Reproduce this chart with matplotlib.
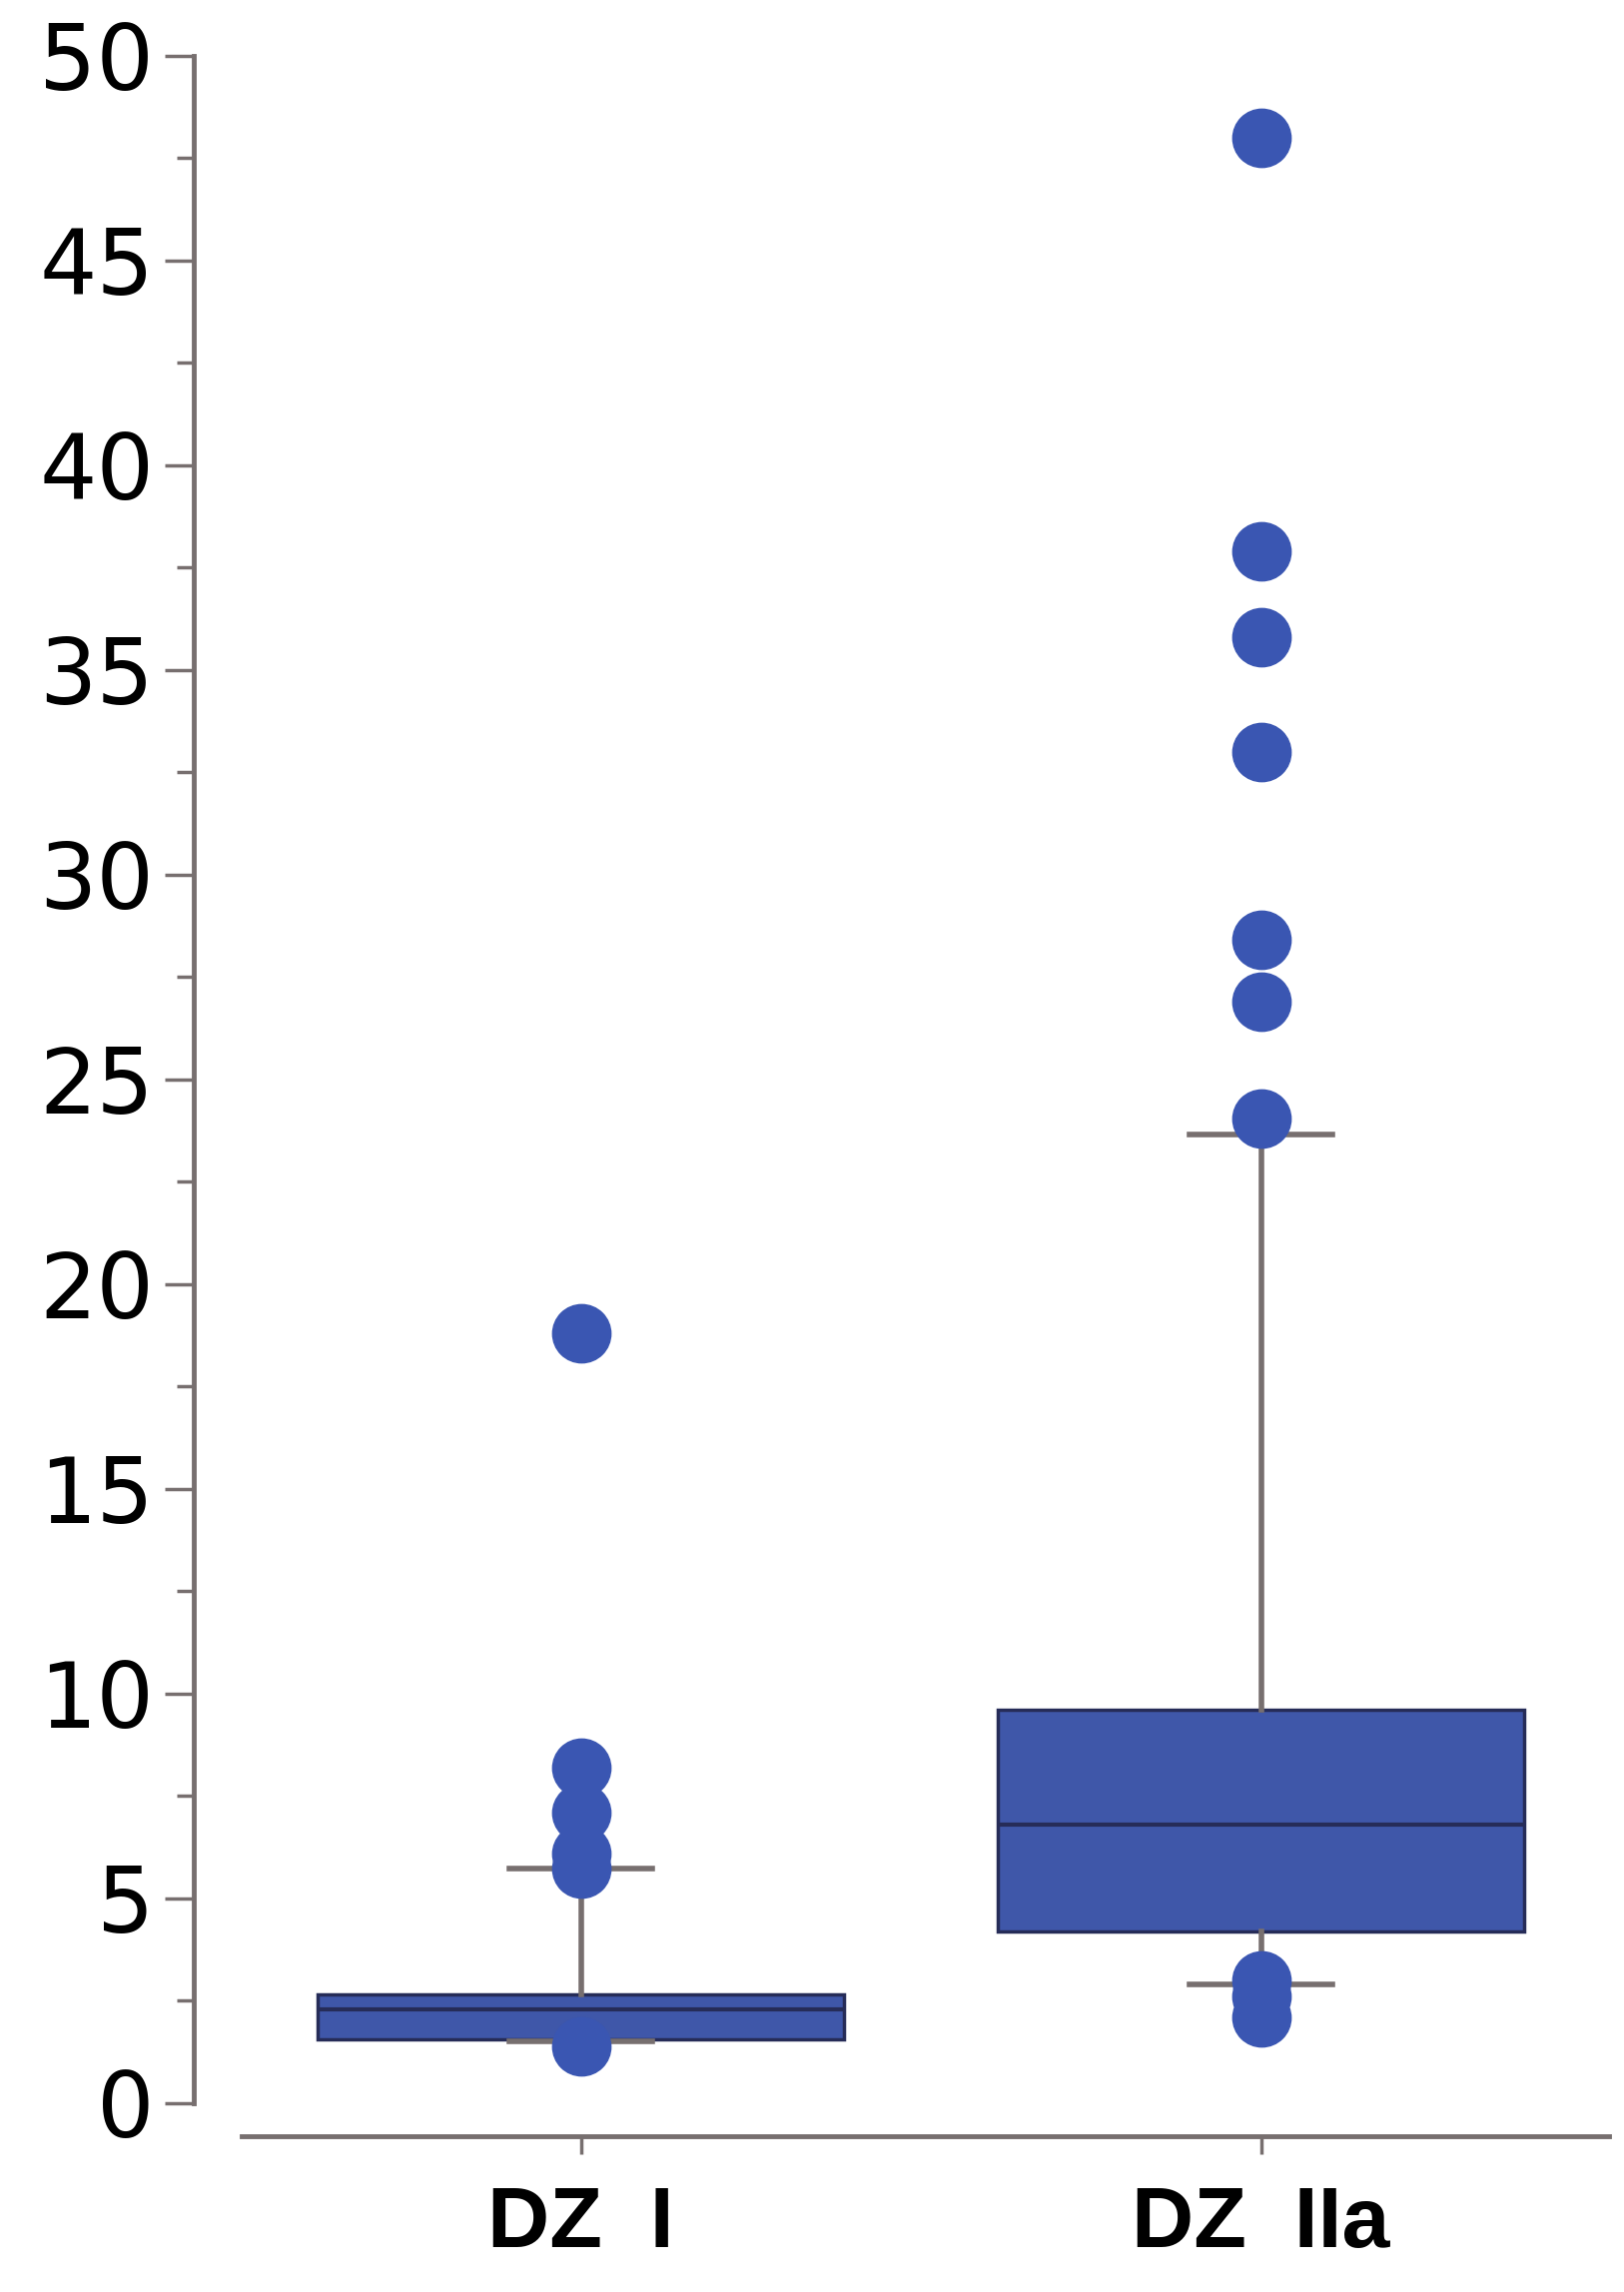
import matplotlib
matplotlib.use("Agg")
import matplotlib.pyplot as plt
from matplotlib.ticker import MultipleLocator

# ---- data ----
categories = ["DZ  I", "DZ  IIa"]
q1_vals = [1.55, 4.2]
median_vals = [2.28, 6.8]
q3_vals = [2.65, 9.6]
whisker_low = [1.5, 2.9]
whisker_high = [5.72, 23.65]
outliers_dz1 = [18.8, 8.2, 7.1, 6.1, 5.72, 1.4]
outliers_dz2 = [48.0, 37.9, 35.8, 33.0, 28.4, 26.9, 24.05, 3.0, 2.6, 2.1]
y_ticks = [0, 5, 10, 15, 20, 25, 30, 35, 40, 45, 50]

BOX_BLUE = "#3f57a9"
DOT_BLUE = "#3a56b2"
EDGE = "#262c58"
GRAY = "#776f6f"

W, H = 1626, 2295
fig = plt.figure(figsize=(W / 100, H / 100), dpi=100)
fig.patch.set_facecolor("white")

ax = fig.add_axes([165 / 1110, 1 - 1437 / 1566, (1100 - 165) / 1110, (1437 - 38) / 1566])

stats = []
fliers_all = [outliers_dz1, outliers_dz2]
for i in range(len(categories)):
    stats.append(dict(
        label=categories[i],
        q1=q1_vals[i], med=median_vals[i], q3=q3_vals[i],
        whislo=whisker_low[i], whishi=whisker_high[i],
        fliers=fliers_all[i],
    ))

ax.bxp(
    stats,
    positions=[0, 1],
    widths=0.774,
    patch_artist=True,
    showfliers=True,
    boxprops=dict(facecolor=BOX_BLUE, edgecolor=EDGE, linewidth=2.5),
    medianprops=dict(color=EDGE, linewidth=3.0),
    whiskerprops=dict(color=GRAY, linewidth=4.0),
    capprops=dict(color=GRAY, linewidth=4.0),
    capwidths=0.21,
    flierprops=dict(marker="o", markersize=42, markerfacecolor=DOT_BLUE,
                    markeredgecolor=DOT_BLUE, linestyle="none"),
    zorder=3,
)

ax.set_xlim(-0.499, 1.512)
ax.set_ylim(0, 50)

ax.spines["top"].set_visible(False)
ax.spines["right"].set_visible(False)
ax.spines["left"].set_position(("outward", 34))
ax.spines["bottom"].set_position(("outward", 24))
for s in ("left", "bottom"):
    ax.spines[s].set_color(GRAY)
    ax.spines[s].set_linewidth(3.5)

ax.set_yticks(y_ticks)
ax.set_yticklabels([str(t) for t in y_ticks])
ax.yaxis.set_minor_locator(MultipleLocator(2.5))
ax.tick_params(axis="y", which="major", length=21, width=2.5, color=GRAY,
               pad=8, labelsize=65, labelcolor="black")
ax.tick_params(axis="y", which="minor", length=12, width=2.5, color=GRAY)
ax.tick_params(axis="x", which="major", length=13, width=2.5, color=GRAY,
               pad=22, labelsize=62, labelcolor="black")
for lab in ax.get_xticklabels():
    lab.set_family(["Liberation Sans", "DejaVu Sans"])
    lab.set_fontweight("bold")

ax.set_facecolor("white")
fig.savefig("out.png", dpi=100, facecolor="white")
